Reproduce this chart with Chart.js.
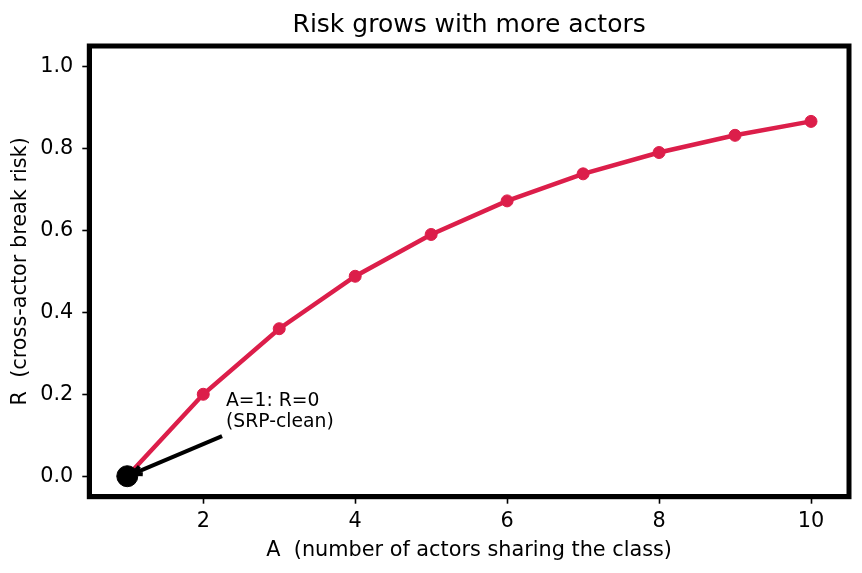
<!DOCTYPE html>
<html>
<head>
<meta charset="utf-8">
<script src="https://cdn.jsdelivr.net/npm/chart.js@4.4.1/dist/chart.umd.min.js"></script>
<style>
  html, body { margin: 0; padding: 0; background: #fff; }
  #wrap { width: 862px; height: 573px; }
</style>
</head>
<body>
<div id="wrap"><canvas id="riskChart" width="862" height="573"></canvas></div>
<script>
// values
const actors = [1, 2, 3, 4, 5, 6, 7, 8, 9, 10];
const risk = [0, 0.2, 0.36, 0.488, 0.59, 0.672, 0.738, 0.79, 0.832, 0.866];
const xTicks = [2, 4, 6, 8, 10];
const yTicks = [0, 0.2, 0.4, 0.6, 0.8, 1.0];
const cleanPoint = [{ x: 1, y: 0 }];
const chartTitle = 'Risk grows with more actors';

const fontFamily = "'DejaVu Sans', sans-serif";

// title centred over the plot, thick box, annotation with arrow
const framePlugin = {
  id: 'frame',
  afterDatasetsDraw(chart) {
    const { ctx, chartArea, scales } = chart;
    ctx.save();
    ctx.fillStyle = '#000';
    ctx.font = '25px ' + fontFamily;
    ctx.textAlign = 'center';
    ctx.textBaseline = 'alphabetic';
    ctx.fillText(chartTitle, (chartArea.left + chartArea.right) / 2, 32.3);

    ctx.strokeStyle = '#000';
    ctx.lineWidth = 5;
    ctx.strokeRect(chartArea.left, chartArea.top,
      chartArea.right - chartArea.left, chartArea.bottom - chartArea.top);

    // annotation
    const tx = scales.x.getPixelForValue(2.3);
    const ty = scales.y.getPixelForValue(0.12);
    ctx.font = '18.75px ' + fontFamily;
    ctx.textAlign = 'left';
    ctx.fillText('A=1: R=0', tx, ty - 21);
    ctx.fillText('(SRP-clean)', tx, ty);

    const x0 = tx - 4, y0 = ty + 9;
    const px = scales.x.getPixelForValue(1), py = scales.y.getPixelForValue(0);
    const ang = Math.atan2(py - y0, px - x0);
    const x1 = px - Math.cos(ang) * 6, y1 = py - Math.sin(ang) * 6;
    ctx.lineWidth = 4;
    ctx.lineCap = 'butt';
    ctx.beginPath();
    ctx.moveTo(x0, y0);
    ctx.lineTo(x1, y1);
    ctx.stroke();
    const hl = 10;
    ctx.beginPath();
    ctx.moveTo(x1 - hl * Math.cos(ang - 0.45), y1 - hl * Math.sin(ang - 0.45));
    ctx.lineTo(x1, y1);
    ctx.lineTo(x1 - hl * Math.cos(ang + 0.45), y1 - hl * Math.sin(ang + 0.45));
    ctx.stroke();
    ctx.restore();
  }
};

new Chart(document.getElementById('riskChart'), {
  type: 'scatter',
  data: {
    datasets: [
      {
        data: actors.map((a, i) => ({ x: a, y: risk[i] })),
        showLine: true,
        borderColor: '#DC1E4A',
        backgroundColor: '#DC1E4A',
        borderWidth: 4.5,
        pointRadius: 6,
        pointBorderWidth: 1,
        pointHoverRadius: 6,
        order: 2
      },
      {
        data: cleanPoint,
        showLine: false,
        backgroundColor: '#000',
        borderColor: '#000',
        pointRadius: 10.5,
        pointBorderWidth: 1,
        pointHoverRadius: 10.5,
        order: 1
      }
    ]
  },
  options: {
    responsive: false,
    animation: false,
    layout: { padding: { top: 46, right: 13, bottom: 10, left: 0 } },
    plugins: {
      legend: { display: false },
      tooltip: { enabled: false },
      title: { display: false }
    },
    scales: {
      x: {
        type: 'linear',
        min: 0.5,
        max: 10.5,
        afterBuildTicks: (s) => { s.ticks = xTicks.map(v => ({ value: v })); },
        afterFit: (s) => { s.height = 66.3; },
        ticks: {
          color: '#000',
          font: { family: fontFamily, size: 20.8 },
          padding: 5,
          maxRotation: 0,
          callback: (v) => String(v)
        },
        grid: { drawOnChartArea: false, drawTicks: true, tickLength: 7, tickWidth: 1.6, tickColor: '#000' },
        border: { display: true, color: '#000', width: 5 },
        title: {
          display: true,
          text: 'A  (number of actors sharing the class)',
          color: '#000',
          font: { family: fontFamily, size: 20.8 },
          padding: { top: 1, bottom: 0 }
        }
      },
      y: {
        type: 'linear',
        min: -0.05,
        max: 1.05,
        afterBuildTicks: (s) => { s.ticks = yTicks.map(v => ({ value: v })); },
        afterFit: (s) => { s.width = 89.3; },
        ticks: {
          color: '#000',
          font: { family: fontFamily, size: 20.8 },
          padding: 9,
          callback: (v) => v.toFixed(1)
        },
        grid: { drawOnChartArea: false, drawTicks: true, tickLength: 7, tickWidth: 1.6, tickColor: '#000' },
        border: { display: true, color: '#000', width: 5 },
        title: {
          display: true,
          text: 'R  (cross-actor break risk)',
          color: '#000',
          font: { family: fontFamily, size: 20.8 },
          padding: { top: 8, bottom: 0 }
        }
      }
    }
  },
  plugins: [framePlugin]
});
</script>
</body>
</html>
